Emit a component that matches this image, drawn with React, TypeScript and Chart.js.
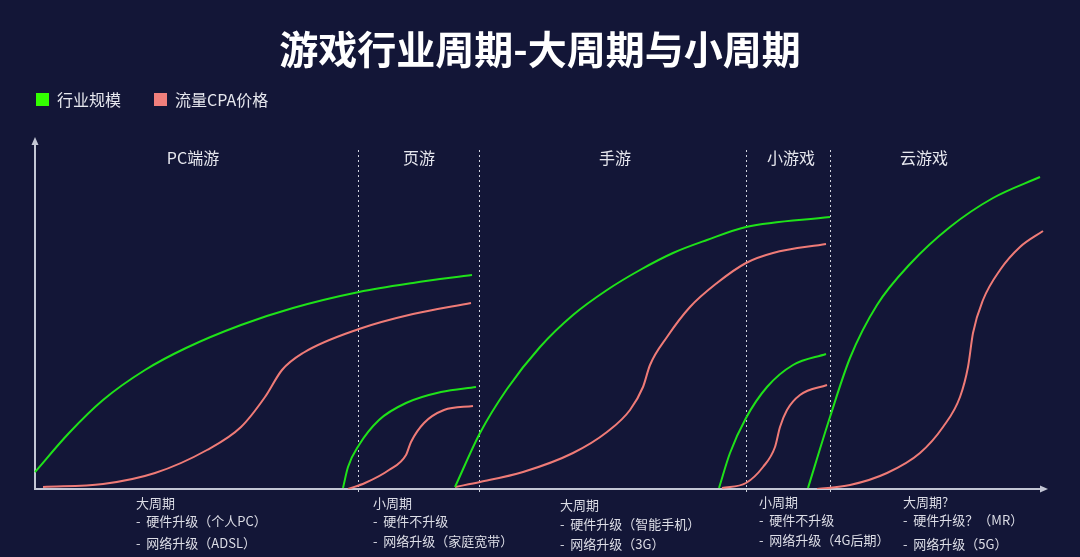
import React, { useEffect, useRef } from 'react';
import { Chart, registerables } from 'chart.js';

Chart.register(...registerables);

// ---------- text ----------
const TITLE = '游戏行业周期-大周期与小周期';
const LABEL_SCALE = '行业规模';
const LABEL_CPA = '流量CPA价格';
const SECTION_LABELS = ['PC端游', '页游', '手游', '小游戏', '云游戏'];
const SECTION_CENTERS = [159, 385, 581, 757, 890];
const DIVIDERS = [324, 445, 712, 796];
const NOTE_STARTS = [102, 339, 526, 725, 869];
const NOTES_PC = ['大周期', '-  硬件升级（个人PC）', '-  网络升级（ADSL）'];
const NOTES_WEB = ['小周期', '-  硬件不升级', '-  网络升级（家庭宽带）'];
const NOTES_MOBILE = ['大周期', '-  硬件升级（智能手机）', '-  网络升级（3G）'];
const NOTES_MINI = ['小周期', '-  硬件不升级', '-  网络升级（4G后期）'];
const NOTES_CLOUD = ['大周期?', '-  硬件升级？（MR）', '-  网络升级（5G）'];

// ---------- axis extent (conceptual units) ----------
const X_MAX = 1012;
const Y_MAX = 351;

// ---------- series (time, value) ----------
const pcScaleX = [1, 35, 69, 111, 152, 207, 259, 325, 379, 438];
const pcScaleY = [17, 56, 89, 119, 141, 164, 181, 197, 206, 214];
const pcCpaX = [9, 69, 121, 173, 207, 231, 248, 269, 325, 379, 437];
const pcCpaY = [2, 5, 16, 39, 62, 92, 119, 136, 160, 175, 186];

const webScaleX = [309, 314, 325, 345, 372, 407, 442];
const webScaleY = [1, 22, 44, 69, 86, 97, 102];
const webCpaX = [314, 331, 355, 372, 377, 390, 410, 439];
const webCpaY = [0, 6, 19, 34, 47, 66, 79, 83];

const mobileScaleX = [421, 446, 473, 506, 539, 573, 606, 639, 673, 712, 796];
const mobileScaleY = [2, 56, 100, 142, 174, 199, 219, 236, 249, 262, 272];
const mobileCpaX = [421, 446, 489, 539, 573, 596, 609, 616, 633, 656, 683, 712, 739, 792];
const mobileCpaY = [2, 7, 17, 36, 57, 79, 102, 124, 152, 182, 206, 226, 236, 245];

const miniScaleX = [685, 696, 712, 733, 759, 792];
const miniScaleY = [1, 36, 71, 102, 124, 135];
const miniCpaX = [688, 712, 729, 741, 746, 753, 766, 793];
const miniCpaY = [1, 6, 22, 42, 62, 79, 94, 104];

const cloudScaleX = [774, 796, 816, 843, 876, 916, 959, 1006];
const cloudScaleY = [1, 72, 131, 184, 225, 262, 291, 312];
const cloudCpaX = [783, 816, 853, 886, 909, 926, 934, 939, 949, 966, 986, 1009];
const cloudCpaY = [0, 4, 16, 36, 62, 92, 122, 156, 189, 219, 242, 258];

// ---------- style ----------
const BG = '#131637';
const GREEN = '#1fe219';
const SALMON = '#ef7b77';
const LEGEND_GREEN = '#33ff00';
const LEGEND_SALMON = '#f07f7c';
const AXIS = '#c3c6d4';
const TEXT = '#e6e7ee';
const FONT = '"Noto Sans CJK SC", "Noto Sans", sans-serif';

const zip = (xs: number[], ys: number[]) => xs.map((x, i) => ({ x, y: ys[i] }));

const CURVES: [number[], number[], string][] = [
  [pcScaleX, pcScaleY, LABEL_SCALE],
  [pcCpaX, pcCpaY, LABEL_CPA],
  [webScaleX, webScaleY, LABEL_SCALE],
  [webCpaX, webCpaY, LABEL_CPA],
  [mobileScaleX, mobileScaleY, LABEL_SCALE],
  [mobileCpaX, mobileCpaY, LABEL_CPA],
  [miniScaleX, miniScaleY, LABEL_SCALE],
  [miniCpaX, miniCpaY, LABEL_CPA],
  [cloudScaleX, cloudScaleY, LABEL_SCALE],
  [cloudCpaX, cloudCpaY, LABEL_CPA],
];

const decorPlugin = {
  id: 'decor',
  beforeDraw(chart: any) {
    const { ctx, chartArea, scales } = chart;
    const { left, right, top, bottom } = chartArea;
    ctx.save();
    ctx.fillStyle = BG;
    ctx.fillRect(0, 0, chart.width, chart.height);

    // dotted dividers
    ctx.strokeStyle = '#cfd2de';
    ctx.lineWidth = 1;
    ctx.setLineDash([2, 3]);
    DIVIDERS.forEach((v) => {
      const x = Math.round(scales.x.getPixelForValue(v)) + 0.5;
      ctx.beginPath();
      ctx.moveTo(x, top + 12);
      ctx.lineTo(x, bottom + 3);
      ctx.stroke();
    });
    ctx.setLineDash([]);

    // axes
    ctx.strokeStyle = AXIS;
    ctx.fillStyle = AXIS;
    ctx.lineWidth = 2;
    ctx.beginPath();
    ctx.moveTo(left + 1, bottom);
    ctx.lineTo(left + 1, top + 5);
    ctx.moveTo(left, bottom);
    ctx.lineTo(right - 2, bottom);
    ctx.stroke();
    // arrow heads
    ctx.beginPath();
    ctx.moveTo(left + 1, top - 1);
    ctx.lineTo(left - 2.5, top + 7);
    ctx.lineTo(left + 4.5, top + 7);
    ctx.closePath();
    ctx.fill();
    ctx.beginPath();
    ctx.moveTo(right + 2, bottom);
    ctx.lineTo(right - 6, bottom - 3.5);
    ctx.lineTo(right - 6, bottom + 3.5);
    ctx.closePath();
    ctx.fill();
    ctx.restore();
  },
  afterDraw(chart: any) {
    const { ctx, chartArea, scales } = chart;
    const { bottom } = chartArea;
    ctx.save();
    // title
    ctx.fillStyle = '#ffffff';
    ctx.textAlign = 'center';
    ctx.textBaseline = 'middle';
    ctx.font = `bold 39px ${FONT}`;
    ctx.fillText(TITLE, chart.width / 2, 49);

    // legend (built from dataset labels)
    const seen: { label: string; color: string }[] = [];
    chart.data.datasets.forEach((d: any) => {
      if (!seen.find((s) => s.label === d.label)) seen.push({ label: d.label, color: d.legendColor });
    });
    ctx.font = `16px ${FONT}`;
    ctx.textAlign = 'left';
    let lx = 36;
    seen.forEach((s) => {
      ctx.fillStyle = s.color;
      ctx.fillRect(lx, 93, 13, 13);
      ctx.fillStyle = TEXT;
      ctx.fillText(s.label, lx + 21, 100);
      lx += 21 + ctx.measureText(s.label).width + 33;
    });

    // section labels
    ctx.textAlign = 'center';
    ctx.font = `16px ${FONT}`;
    ctx.fillStyle = TEXT;
    SECTION_LABELS.forEach((t, i) => {
      ctx.fillText(t, scales.x.getPixelForValue(SECTION_CENTERS[i]), 158);
    });

    // bottom notes
    ctx.textAlign = 'left';
    ctx.font = `13px ${FONT}`;
    ctx.fillStyle = '#dcdde6';
    const notes = [NOTES_PC, NOTES_WEB, NOTES_MOBILE, NOTES_MINI, NOTES_CLOUD];
    const rowOffsets = [
      [14, 32, 54],
      [14, 32, 52],
      [16, 35, 55],
      [13, 31, 51],
      [13, 31, 55],
    ];
    notes.forEach((block, i) => {
      const x = scales.x.getPixelForValue(NOTE_STARTS[i]);
      block.forEach((line, j) => {
        ctx.fillText(line, x, bottom + rowOffsets[i][j]);
      });
    });
    ctx.restore();
  },
};

export default function App() {
  const ref = useRef<HTMLCanvasElement | null>(null);
  useEffect(() => {
    if (!ref.current) return;
    const chart = new Chart(ref.current, {
      type: 'line',
      data: {
        datasets: CURVES.map(([xs, ys, label]) => {
          const green = label === LABEL_SCALE;
          return {
            label,
            data: zip(xs, ys),
            borderColor: green ? GREEN : SALMON,
            legendColor: green ? LEGEND_GREEN : LEGEND_SALMON,
            borderWidth: 2,
            pointRadius: 0,
            fill: false,
            cubicInterpolationMode: 'monotone',
          } as any;
        }),
      },
      options: {
        responsive: false,
        animation: false,
        events: [],
        layout: { padding: { left: 34, right: 34, top: 138, bottom: 68 } },
        scales: {
          x: { type: 'linear', min: 0, max: X_MAX, display: false },
          y: { type: 'linear', min: 0, max: Y_MAX, display: false },
        },
        plugins: {
          legend: { display: false },
          title: { display: false },
          tooltip: { enabled: false },
        },
      },
      plugins: [decorPlugin],
    });
    return () => chart.destroy();
  }, []);
  return (
    <div style={{ position: 'fixed', left: 0, top: 0, width: 1080, height: 557, background: BG }}>
      <canvas ref={ref} width={1080} height={557} style={{ display: 'block' }} />
    </div>
  );
}
